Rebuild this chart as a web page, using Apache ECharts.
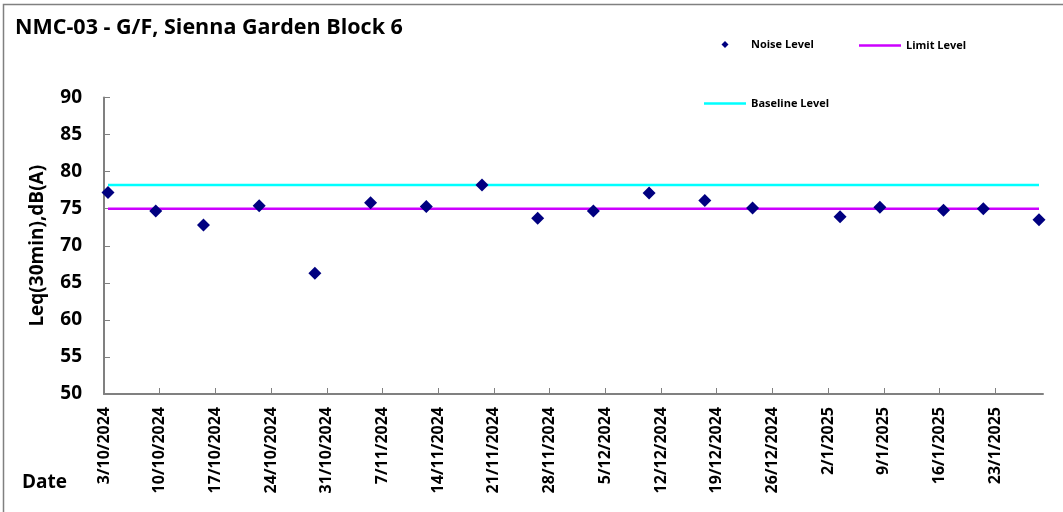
<!DOCTYPE html>
<html>
<head>
<meta charset="utf-8">
<script src="https://cdn.jsdelivr.net/npm/echarts@6/dist/echarts.min.js"></script>
<style>html,body{margin:0;padding:0;background:#fff;}#c{width:1063px;height:512px;}</style>
</head>
<body>
<div id="c"></div>
<script>
// ---- data ----
const axisStart = '2024-10-03';
const axisDays = 118;               // axis ends at 29/1/2025
const tickDays = 7;
const dates = ['2024-10-03T12:00','2024-10-09T12:00','2024-10-15T12:00','2024-10-22T12:00','2024-10-29T12:00',
  '2024-11-05T12:00','2024-11-12T12:00','2024-11-19T12:00','2024-11-26T12:00','2024-12-03T12:00',
  '2024-12-10T12:00','2024-12-17T12:00','2024-12-23T12:00','2025-01-03T12:00','2025-01-08T12:00',
  '2025-01-16T12:00','2025-01-21T12:00','2025-01-28T12:00'];
const noise = [77.2,74.7,72.8,75.4,66.3,75.8,75.3,78.2,73.7,74.7,77.1,76.1,75.1,73.9,75.2,74.8,75.0,73.5];
const limitLevel = 75;
const baselineLevel = 78.2;
const yTicks = {min: 50, max: 90, step: 5};

const DAY = 86400000;
const t0 = Date.parse(axisStart + 'T00:00');
const dayOf = s => (Date.parse(s) - t0) / DAY;
const xs = dates.map(dayOf);
const fmtDate = v => { const d = new Date(t0 + v * DAY); return d.getDate() + '/' + (d.getMonth() + 1) + '/' + d.getFullYear(); };

const FONT = '"Open Sans", "Liberation Sans", sans-serif';
const chart = echarts.init(document.getElementById('c'), null, {renderer: 'canvas'});
const legendText = {fontFamily: FONT, fontWeight: 'bold', fontSize: 11, color: '#000'};
const diamondIcon = 'path://M0,3.5L0,3.5M42,3.5L42,3.5M21,0L24.5,3.5L21,7L17.5,3.5Z';
const lineIcon = 'path://M0,0L42,0L42,2.5L0,2.5Z';
chart.setOption({
  animation: false,
  backgroundColor: '#fff',
  title: {text: 'NMC-03 - G/F, Sienna Garden Block 6', left: 10, top: 12,
    textStyle: {fontFamily: FONT, fontWeight: 'bold', fontSize: 21.5, color: '#000'}},
  legend: [
    {data: [{name: 'Noise Level', icon: diamondIcon}], left: 699, top: 34, itemWidth: 42, itemHeight: 7, textStyle: legendText},
    {data: [{name: 'Limit Level', icon: lineIcon}], left: 854, top: 35, itemWidth: 42, itemHeight: 2.5, textStyle: legendText},
    {data: [{name: 'Baseline Level', icon: lineIcon}], left: 699, top: 93, itemWidth: 42, itemHeight: 2.5, textStyle: legendText}
  ],
  graphic: [
    {type: 'rect', shape: {x: 3.5, y: 4.5, width: 1070, height: 520}, style: {fill: 'none', stroke: '#808080', lineWidth: 1.5}, silent: true},
    {type: 'text', left: 22, top: 473, style: {text: 'Date', fontFamily: FONT, fontWeight: 'bold', fontSize: 19, fill: '#000'}}
  ],
  grid: {left: 104, right: 20, top: 97.5, bottom: 118, containLabel: false},
  xAxis: {
    type: 'value', min: 0, max: axisDays, interval: tickDays,
    axisLine: {show: true, lineStyle: {color: '#808080', width: 2}},
    axisTick: {show: true, inside: true, length: 6, lineStyle: {color: '#808080', width: 1}},
    splitLine: {show: false},
    axisLabel: {rotate: 90, margin: 13, showMaxLabel: false, formatter: fmtDate,
      fontFamily: FONT, fontWeight: 'bold', fontSize: 16, color: '#000'}
  },
  yAxis: {
    type: 'value', min: yTicks.min, max: yTicks.max, interval: yTicks.step,
    name: 'Leq(30min),dB(A)', nameLocation: 'middle', nameGap: 57, nameRotate: 90,
    nameTextStyle: {fontFamily: FONT, fontWeight: 'bold', fontSize: 19, color: '#000'},
    axisLine: {show: true, lineStyle: {color: '#808080', width: 2}},
    axisTick: {show: true, inside: true, length: 6, lineStyle: {color: '#808080', width: 1}},
    splitLine: {show: false},
    axisLabel: {margin: 22, fontFamily: FONT, fontWeight: 'bold', fontSize: 19, color: '#000'}
  },
  series: [
    {name: 'Baseline Level', type: 'line', symbol: 'none', data: xs.map(x => [x, baselineLevel]),
      lineStyle: {color: '#00FFFF', width: 2.5}, itemStyle: {color: '#00FFFF'}, z: 1},
    {name: 'Limit Level', type: 'line', symbol: 'none', data: xs.map(x => [x, limitLevel]),
      lineStyle: {color: '#CC00FF', width: 2.5}, itemStyle: {color: '#CC00FF'}, z: 1},
    {name: 'Noise Level', type: 'scatter', symbol: 'diamond', symbolSize: 13,
      data: xs.map((x, i) => [x, noise[i]]), itemStyle: {color: '#000080', opacity: 1}, z: 3}
  ]
});
</script>
</body>
</html>
